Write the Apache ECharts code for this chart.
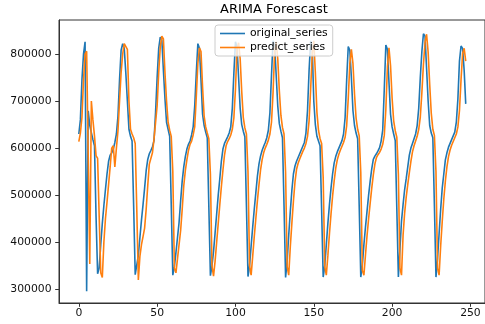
<!DOCTYPE html>
<html><head><meta charset="utf-8">
<script src="https://cdn.jsdelivr.net/npm/echarts@6/dist/echarts.min.js"></script>
<style>html,body{margin:0;padding:0;background:#fff;overflow:hidden}#c{width:485px;height:324px}</style>
</head><body><div id="c"></div>
<script>
const titleText = 'ARIMA Forescast';
const seriesNames = ['original_series', 'predict_series'];
const xTicks = [0, 50, 100, 150, 200, 250];
const yTicks = [300000, 400000, 500000, 600000, 700000, 800000];

const originalSeries = [
  630000, 660000, 745000, 800000, 826000, 296000, 679000, 648000, 633000, 618000,
  605000, 455000, 333000, 345000, 395000, 440000, 478000, 512000, 545000, 572000,
  585000, 590000, 598000, 612000, 630000, 668000, 745000, 808000, 822000, 812000,
  760000, 700000, 640000, 625000, 615000, 478000, 331000, 333000, 372000, 410000,
  447000, 480000, 515000, 552000, 576000, 588000, 595000, 603000, 616000, 676000,
  750000, 812000, 836000, 830000, 765000, 705000, 655000, 640000, 625000, 480000,
  330000, 348000, 378000, 410000, 442000, 488000, 530000, 560000, 582000, 598000,
  608000, 615000, 628000, 645000, 690000, 760000, 822000, 812000, 745000, 672000,
  648000, 634000, 622000, 476000, 329000, 350000, 380000, 420000, 460000, 500000,
  535000, 572000, 598000, 610000, 617000, 624000, 632000, 645000, 685000, 760000,
  826000, 815000, 750000, 685000, 650000, 636000, 624000, 478000, 327000, 350000,
  392000, 432000, 470000, 505000, 540000, 566000, 583000, 595000, 604000, 612000,
  622000, 638000, 675000, 755000, 828000, 818000, 755000, 690000, 652000, 636000,
  622000, 478000, 325000, 360000, 415000, 465000, 510000, 545000, 562000, 572000,
  580000, 588000, 596000, 604000, 612000, 632000, 680000, 765000, 828000, 815000,
  700000, 650000, 625000, 615000, 605000, 470000, 326000, 350000, 395000, 440000,
  480000, 515000, 545000, 568000, 582000, 592000, 600000, 608000, 616000, 630000,
  665000, 745000, 816000, 808000, 750000, 680000, 648000, 632000, 620000, 476000,
  326000, 352000, 395000, 432000, 466000, 500000, 530000, 556000, 576000, 583000,
  588000, 594000, 601000, 615000, 638000, 725000, 819000, 810000, 740000, 672000,
  645000, 630000, 616000, 472000, 326000, 385000, 445000, 480000, 512000, 535000,
  560000, 585000, 600000, 610000, 620000, 630000, 648000, 685000, 750000, 805000,
  843000, 838000, 770000, 700000, 648000, 632000, 622000, 478000, 326000, 365000,
  418000, 470000, 515000, 545000, 575000, 590000, 602000, 610000, 618000, 626000,
  634000, 655000, 705000, 785000, 817000, 812000, 765000, 694000
];

const predictSeries = [
  614000, 632000, 665000, 745000, 800000, 806000, 585000, 354000, 700000, 660000,
  626000, 584000, 578000, 455000, 335000, 325000, 400000, 450000, 485000, 487000,
  560000, 600000, 605000, 560000, 600000, 637000, 700000, 760000, 800000, 822000,
  826000, 810000, 700000, 640000, 630000, 622000, 610000, 470000, 320000, 370000,
  395000, 412000, 430000, 470000, 520000, 566000, 565000, 590000, 619000, 620000,
  690000, 760000, 815000, 838000, 832000, 760000, 700000, 655000, 638000, 625000,
  550000, 345000, 335000, 365000, 395000, 425000, 470000, 520000, 552000, 575000,
  595000, 608000, 615000, 628000, 645000, 710000, 780000, 813000, 805000, 730000,
  668000, 645000, 632000, 620000, 545000, 350000, 328000, 360000, 400000, 440000,
  480000, 518000, 553000, 585000, 605000, 614000, 620000, 628000, 640000, 665000,
  725000, 812000, 824000, 790000, 720000, 665000, 643000, 630000, 550000, 350000,
  330000, 370000, 412000, 450000, 488000, 522000, 553000, 575000, 590000, 600000,
  608000, 617000, 630000, 655000, 718000, 805000, 826000, 790000, 722000, 670000,
  644000, 630000, 548000, 348000, 330000, 390000, 440000, 487000, 528000, 555000,
  568000, 577000, 585000, 593000, 600000, 610000, 625000, 658000, 725000, 800000,
  828000, 760000, 676000, 638000, 620000, 610000, 538000, 348000, 330000, 372000,
  418000, 460000, 498000, 530000, 557000, 575000, 587000, 596000, 604000, 612000,
  623000, 648000, 705000, 780000, 810000, 780000, 715000, 664000, 640000, 626000,
  548000, 340000, 330000, 373000, 414000, 450000, 483000, 515000, 543000, 566000,
  580000, 586000, 591000, 598000, 608000, 627000, 682000, 772000, 813000, 775000,
  706000, 658000, 637000, 623000, 544000, 345000, 330000, 415000, 462000, 496000,
  523000, 548000, 572000, 592000, 605000, 615000, 625000, 640000, 666000, 718000,
  778000, 824000, 842000, 804000, 735000, 674000, 640000, 627000, 550000, 345000,
  330000, 392000, 444000, 492000, 530000, 560000, 582000, 596000, 606000, 614000,
  622000, 630000, 645000, 680000, 745000, 801000, 812000, 785000
];

const FONT = 'DejaVu Sans';
const chart = echarts.init(document.getElementById('c'), null, {renderer: 'canvas'});
const toPairs = arr => arr.map((v, i) => [i, v]);

chart.setOption({
  animation: false,
  backgroundColor: '#ffffff',
  title: {
    text: titleText,
    left: 220, top: 3,
    padding: 0,
    textStyle: {fontFamily: FONT, fontSize: 13, fontWeight: 'normal', color: '#000'}
  },
  grid: {
    left: 59, top: 20, width: 430, height: 283,
    show: true, borderColor: '#333', borderWidth: 1, backgroundColor: 'transparent',
    containLabel: false
  },
  legend: {
    data: seriesNames,
    orient: 'vertical',
    left: 215, top: 25,
    zlevel: 1, z: 10,
    padding: [3, 5, 3, 5],
    itemGap: 3,
    itemWidth: 25, itemHeight: 1.6,
    icon: 'rect',
    backgroundColor: 'rgba(255,255,255,0.8)',
    borderColor: '#cccccc', borderWidth: 1, borderRadius: 3,
    textStyle: {fontFamily: FONT, fontSize: 10.8, color: '#000'}
  },
  xAxis: {
    type: 'value',
    min: -12.65, max: 259.3,
    axisLine: {show: true, onZero: false, lineStyle: {color: '#333', width: 1}},
    axisTick: {show: true, length: 3.8, customValues: xTicks, lineStyle: {color: '#333', width: 1}},
    axisLabel: {customValues: xTicks, margin: 5, fontFamily: FONT, fontSize: 10.8, color: '#111',
      formatter: v => String(v)},
    splitLine: {show: false}
  },
  yAxis: {
    type: 'value',
    min: 270890, max: 872250,
    axisLine: {show: true, onZero: false, lineStyle: {color: '#333', width: 1}},
    axisTick: {show: true, length: 3.8, customValues: yTicks, lineStyle: {color: '#333', width: 1}},
    axisLabel: {customValues: yTicks, margin: 7.5, fontFamily: FONT, fontSize: 10.8, color: '#111',
      formatter: v => String(v)},
    splitLine: {show: false}
  },
  series: [
    {
      name: seriesNames[0], type: 'line', data: toPairs(originalSeries),
      symbol: 'none', showSymbol: false, clip: true, z: 2,
      lineStyle: {color: '#1f77b4', width: 1.6}, itemStyle: {color: '#1f77b4'}
    },
    {
      name: seriesNames[1], type: 'line', data: toPairs(predictSeries),
      symbol: 'none', showSymbol: false, clip: true, z: 2,
      lineStyle: {color: '#ff7f0e', width: 1.6}, itemStyle: {color: '#ff7f0e'}
    }
  ]
});
</script>
</body></html>
